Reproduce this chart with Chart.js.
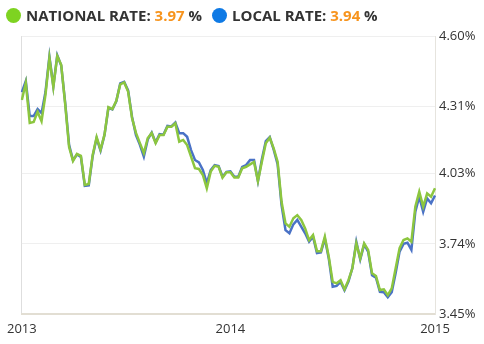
<!DOCTYPE html>
<html>
<head>
<meta charset="utf-8">
<script src="https://cdn.jsdelivr.net/npm/chart.js@4"></script>
<style>
  body { margin: 0; background: #fff; }
  #wrap { position: relative; width: 484px; height: 344px; }
  #legend {
    position: absolute; left: 6px; top: 5px;
    font: bold 15px "Open Sans", sans-serif; color: #333;
    display: flex; align-items: center; white-space: nowrap;
  }
  #legend .dot { width: 15px; height: 15px; border-radius: 50%; display: inline-block; margin-right: 5px; }
  #legend .val { color: #f7941d; }
  #legend .item { display: flex; align-items: center; margin-right: 10px; }
</style>
</head>
<body>
<div id="wrap">
  <canvas id="rateChart" width="484" height="344"></canvas>
  <div id="legend">
    <span class="item"><span class="dot" style="background:#7ed321"></span>NATIONAL RATE:&nbsp;<span class="val" id="natVal"></span>&nbsp;%</span>
    <span class="item"><span class="dot" style="background:#0f7ae5"></span>LOCAL RATE:&nbsp;<span class="val" id="locVal"></span>&nbsp;%</span>
  </div>
</div>
<script>
// weekly mortgage rates, Jan 2013 - Jan 2015
const nationalRate = [
  4.335, 4.406, 4.240, 4.244, 4.286, 4.248, 4.357, 4.509, 4.389, 4.517,
  4.481, 4.319, 4.141, 4.083, 4.112, 4.104, 3.984, 3.988, 4.108, 4.182,
  4.130, 4.192, 4.306, 4.298, 4.332, 4.400, 4.408, 4.370, 4.261, 4.199,
  4.157, 4.116, 4.178, 4.199, 4.157, 4.190, 4.190, 4.225, 4.225, 4.239,
  4.163, 4.170, 4.149, 4.101, 4.053, 4.050, 4.025, 3.970, 4.039, 4.063,
  4.059, 4.014, 4.036, 4.036, 4.015, 4.015, 4.053, 4.059, 4.069, 4.079,
  4.000, 4.080, 4.156, 4.179, 4.135, 4.080, 3.914, 3.825, 3.811, 3.846,
  3.859, 3.839, 3.804, 3.756, 3.777, 3.710, 3.710, 3.770, 3.687, 3.583,
  3.577, 3.590, 3.552, 3.590, 3.639, 3.742, 3.680, 3.742, 3.715, 3.618,
  3.607, 3.549, 3.552, 3.528, 3.556, 3.639, 3.722, 3.756, 3.763, 3.749,
  3.894, 3.956, 3.894, 3.949, 3.935, 3.970
];
const localRate = [
  4.368, 4.414, 4.269, 4.269, 4.298, 4.281, 4.368, 4.515, 4.392, 4.520,
  4.478, 4.325, 4.150, 4.086, 4.110, 4.100, 3.980, 3.982, 4.104, 4.178,
  4.126, 4.190, 4.303, 4.296, 4.330, 4.404, 4.410, 4.375, 4.265, 4.190,
  4.150, 4.101, 4.172, 4.200, 4.160, 4.194, 4.192, 4.228, 4.226, 4.242,
  4.198, 4.198, 4.183, 4.128, 4.087, 4.077, 4.046, 3.991, 4.045, 4.066,
  4.062, 4.018, 4.038, 4.040, 4.018, 4.018, 4.058, 4.066, 4.087, 4.087,
  4.000, 4.090, 4.165, 4.182, 4.130, 4.070, 3.900, 3.797, 3.784, 3.821,
  3.839, 3.811, 3.784, 3.749, 3.770, 3.702, 3.705, 3.762, 3.680, 3.563,
  3.566, 3.583, 3.548, 3.584, 3.640, 3.749, 3.676, 3.738, 3.708, 3.610,
  3.600, 3.542, 3.540, 3.519, 3.540, 3.620, 3.708, 3.740, 3.745, 3.715,
  3.873, 3.935, 3.873, 3.928, 3.908, 3.940
];
const rateTicks = [3.45, 3.74, 4.03, 4.31, 4.60];

// one label per week starting 2013-01-01
const weeks = [];
for (let i = 0; i < nationalRate.length; i++) {
  const d = new Date(Date.UTC(2013, 0, 1 + 7 * i));
  weeks.push(d.toISOString().slice(0, 10));
}

document.getElementById('natVal').textContent = nationalRate[nationalRate.length - 1].toFixed(2);
document.getElementById('locVal').textContent = localRate[localRate.length - 1].toFixed(2);

const tickFont = { family: '"Open Sans", sans-serif', size: 13 };

new Chart(document.getElementById('rateChart'), {
  type: 'line',
  data: {
    labels: weeks,
    datasets: [{
      label: 'National rate',
      data: nationalRate,
      borderColor: '#8cc63f',
      borderWidth: 2.5,
      pointRadius: 0,
      tension: 0
    }, {
      label: 'Local rate',
      data: localRate,
      borderColor: '#4a72c6',
      borderWidth: 2.5,
      pointRadius: 0,
      tension: 0
    }]
  },
  options: {
    responsive: false,
    animation: false,
    layout: { padding: { left: 21, top: 36, right: 0, bottom: 0 } },
    plugins: { legend: { display: false }, tooltip: { enabled: false } },
    scales: {
      x: {
        offset: false,
        grid: {
          drawTicks: false,
          color: (c) => c.index === 0 ? '#dedede' : 'transparent'
        },
        border: { color: '#e2ded3', width: 2 },
        ticks: {
          autoSkip: false,
          maxRotation: 0,
          padding: 7,
          color: '#333',
          font: tickFont,
          callback: function (value) {
            const lbl = this.getLabelForValue(value);
            const day = +lbl.slice(8, 10);
            return (lbl.slice(5, 7) === '01' && day <= 7) ? lbl.slice(0, 4) : '';
          }
        },
        afterFit: (s) => { s.height = 30; }
      },
      y: {
        position: 'right',
        min: 3.45,
        max: 4.60,
        afterBuildTicks: (s) => { s.ticks = rateTicks.map(v => ({ value: v })); },
        grid: { drawTicks: false, color: '#efefef' },
        border: { color: '#e6e4de', width: 1 },
        ticks: {
          padding: 4,
          color: '#333',
          font: tickFont,
          callback: (v) => v.toFixed(2) + '%'
        },
        afterFit: (s) => { s.width = 49; }
      }
    }
  }
});
</script>
</body>
</html>
